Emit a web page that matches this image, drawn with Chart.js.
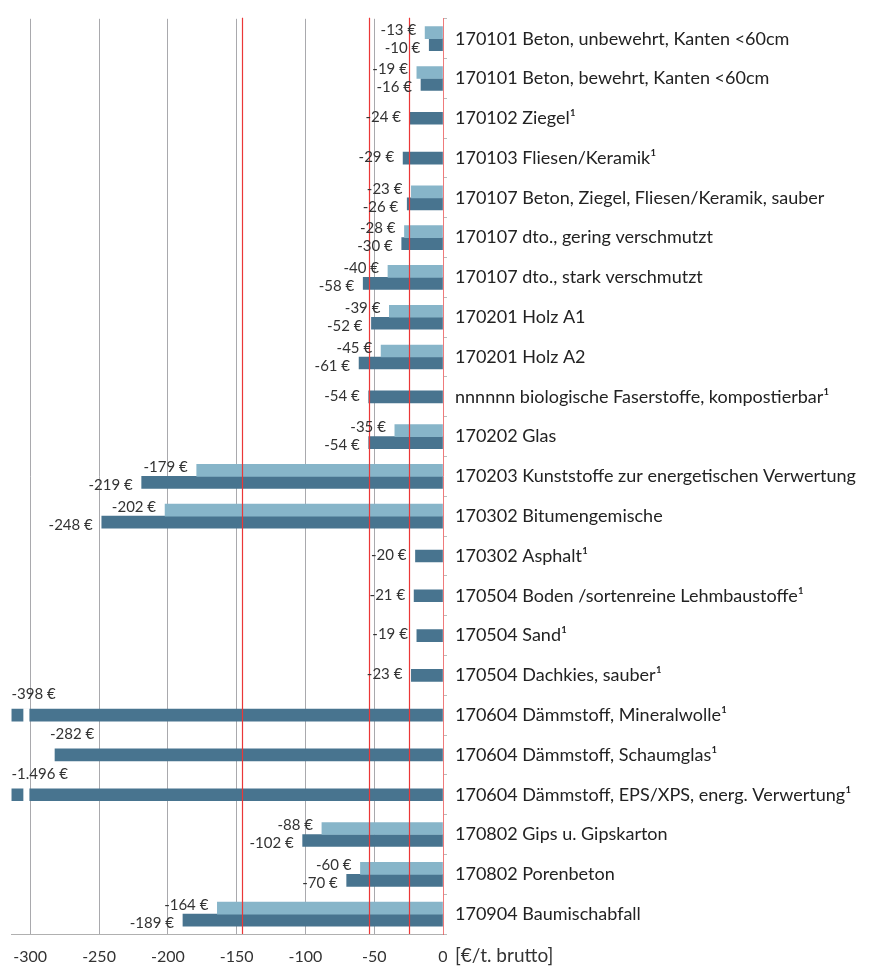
<!DOCTYPE html>
<html>
<head>
<meta charset="utf-8">
<script src="https://cdn.jsdelivr.net/npm/chart.js@4.4.1/dist/chart.umd.min.js"></script>
<style>
  html, body { margin: 0; padding: 0; background: #fff; }
  #wrap { width: 887px; height: 967px; position: relative; }
</style>
</head>
<body>
<div id="wrap"><canvas id="chart"></canvas></div>
<script>
// Categories (top to bottom)
const categories = [
    '170101 Beton, unbewehrt, Kanten <60cm',
    '170101 Beton, bewehrt, Kanten <60cm',
    '170102 Ziegel¹',
    '170103 Fliesen/Keramik¹',
    '170107 Beton, Ziegel, Fliesen/Keramik, sauber',
    '170107 dto., gering verschmutzt',
    '170107 dto., stark verschmutzt',
    '170201 Holz A1',
    '170201 Holz A2',
    'nnnnnn biologische Faserstoffe, kompostierbar¹',
    '170202 Glas',
    '170203 Kunststoffe zur energetischen Verwertung',
    '170302 Bitumengemische',
    '170302 Asphalt¹',
    '170504 Boden /sortenreine Lehmbaustoffe¹',
    '170504 Sand¹',
    '170504 Dachkies, sauber¹',
    '170604 Dämmstoff, Mineralwolle¹',
    '170604 Dämmstoff, Schaumglas¹',
    '170604 Dämmstoff, EPS/XPS, energ. Verwertung¹',
    '170802 Gips u. Gipskarton',
    '170802 Porenbeton',
    '170904 Baumischabfall'
];

// light series (upper bar)
const lightValues = [-13, -19, null, null, -23, -28, -40, -39, -45, null, -35, -179, -202,
    null, null, null, null, null, null, null, -88, -60, -164];

// dark series (lower bar)
const darkValues = [-10, -16, -24, -29, -26, -30, -58, -52, -61, -54, -54, -219, -248,
    -20, -21, -19, -23, -398, -282, -1496, -102, -70, -189];

// red reference lines
const refLines = [-146, -54, -25];

const xTicks = [-300, -250, -200, -150, -100, -50, 0];
const axisUnit = '[€/t. brutto]';

const X_MIN = -313.6;
const FONT = 'Lato, "Open Sans", sans-serif';

function euro(v) {
    const s = Math.abs(v).toString().replace(/\B(?=(\d{3})+(?!\d))/g, '.');
    return (v < 0 ? '-' : '') + s + ' €';
}

// bars running past the axis minimum get a small white break
const breakPlugin = {
    id: 'barBreak',
    afterDatasetsDraw(chart) {
        const x = chart.scales.x;
        const ctx = chart.ctx;
        chart.data.datasets.forEach((ds, di) => {
            chart.getDatasetMeta(di).data.forEach((bar, i) => {
                const v = ds.data[i];
                if (v === null || v >= X_MIN) return;
                const x1 = x.getPixelForValue(-305);
                const x2 = x.getPixelForValue(-300.6);
                ctx.save();
                ctx.fillStyle = '#fff';
                ctx.fillRect(x1, bar.y - bar.height / 2 - 1, x2 - x1, bar.height + 2);
                ctx.restore();
            });
        });
    }
};

// red lines, value labels, unit label
const overlayPlugin = {
    id: 'overlay',
    afterDraw(chart) {
        const ctx = chart.ctx;
        const area = chart.chartArea;
        const x = chart.scales.x;

        ctx.save();
        ctx.strokeStyle = 'rgb(235,55,55)';
        ctx.lineWidth = 1.2;
        refLines.forEach(v => {
            const px = Math.round(x.getPixelForValue(v)) + 0.5;
            ctx.beginPath();
            ctx.moveTo(px, area.top - 1);
            ctx.lineTo(px, area.bottom);
            ctx.stroke();
        });

        ctx.font = '15px ' + FONT;
        ctx.fillStyle = '#333';
        ctx.textBaseline = 'middle';
        chart.data.datasets.forEach((ds, di) => {
            chart.getDatasetMeta(di).data.forEach((bar, i) => {
                const v = ds.data[i];
                if (v === null) return;
                const txt = euro(v);
                const w = ctx.measureText(txt).width;
                const paired = lightValues[i] !== null && darkValues[i] !== null;
                const dy = paired ? (di === 0 ? -3 : 3) : -1;
                const end = Math.max(area.left, bar.x);
                if (end - 9 - w < area.left) {
                    ctx.textAlign = 'left';
                    ctx.fillText(txt, Math.max(area.left, bar.x - 5), bar.y - 21);
                } else {
                    ctx.textAlign = 'right';
                    ctx.fillText(txt, end - 9, bar.y + dy);
                }
            });
        });

        ctx.font = '19px ' + FONT;
        ctx.fillStyle = '#333';
        ctx.textAlign = 'left';
        ctx.fillText(axisUnit, x.getPixelForValue(0) + 12, area.bottom + 22);
        ctx.restore();
    }
};

const ctx = document.getElementById('chart').getContext('2d');
new Chart(ctx, {
    type: 'bar',
    data: {
        labels: categories,
        datasets: [{
            label: 'hell',
            data: lightValues,
            backgroundColor: '#87b5c9',
            barThickness: 12,
            skipNull: true
        }, {
            label: 'dunkel',
            data: darkValues,
            backgroundColor: '#48748f',
            barThickness: 12,
            skipNull: true
        }]
    },
    options: {
        indexAxis: 'y',
        responsive: true,
        maintainAspectRatio: false,
        animation: false,
        layout: { padding: { top: 12, left: 8, right: 0, bottom: 0 } },
        plugins: {
            legend: { display: false },
            tooltip: { enabled: false }
        },
        scales: {
            x: {
                min: X_MIN,
                max: 0,
                z: 1,
                afterBuildTicks: (scale) => { scale.ticks = xTicks.map(v => ({ value: v })); },
                afterFit: (scale) => { scale.height = 33; },
                ticks: {
                    color: '#333',
                    font: { family: FONT, size: 16 },
                    padding: 13,
                    maxRotation: 0,
                    callback: (v) => String(v)
                },
                grid: {
                    color: (c) => c.tick && c.tick.value === 0 ? 'rgba(0,0,0,0)' : 'rgba(140,140,145,0.75)',
                    drawTicks: false
                },
                border: { color: '#b0b0b0' }
            },
            y: {
                position: 'right',
                afterFit: (scale) => { scale.width = 444; },
                ticks: {
                    color: '#222',
                    font: { family: FONT, size: 18 },
                    padding: 8,
                    autoSkip: false
                },
                grid: {
                    drawOnChartArea: false,
                    tickLength: 4,
                    color: '#bbb'
                },
                border: { color: 'rgba(235,90,90,0.8)' }
            }
        }
    },
    plugins: [breakPlugin, overlayPlugin]
});
</script>
</body>
</html>
